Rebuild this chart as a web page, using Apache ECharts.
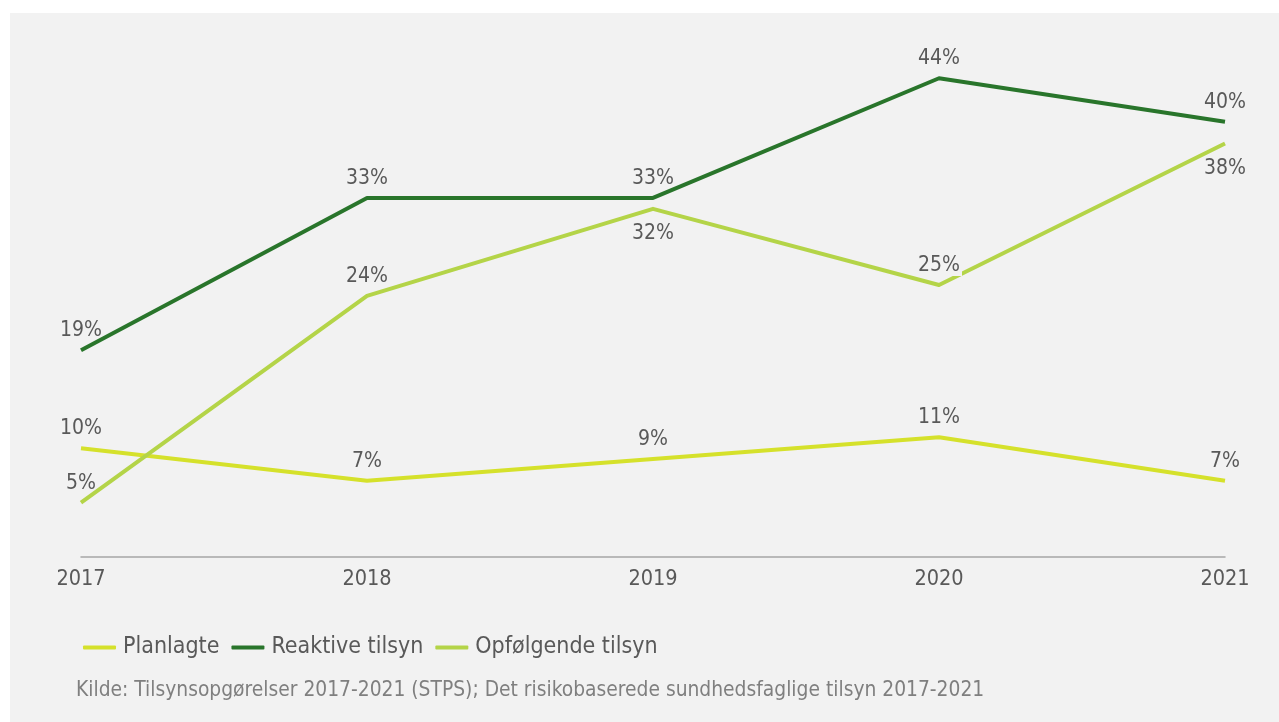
<!DOCTYPE html>
<html>
<head>
<meta charset="utf-8">
<script src="https://cdn.jsdelivr.net/npm/echarts@6/dist/echarts.min.js"></script>
<style>
  html, body { margin: 0; padding: 0; background: #ffffff; }
  #chart { width: 1279px; height: 722px; }
</style>
</head>
<body>
<div id="chart"></div>
<script>
// Inspection years and share of each inspection type (%)
const years = ['2017', '2018', '2019', '2020', '2021'];
const planlagte = [10, 7, 9, 11, 7];
const reaktive = [19, 33, 33, 44, 40];
const opfoelgende = [5, 24, 32, 25, 38];
const seriesNames = ['Planlagte', 'Reaktive tilsyn', 'Opfølgende tilsyn'];
const sourceNote = 'Kilde: Tilsynsopgørelser 2017-2021 (STPS); Det risikobaserede sundhedsfaglige tilsyn 2017-2021';

// Label placement per point; 'boxed' labels get a panel-coloured backdrop
const labelSides = {
  planlagte: ['top', 'top', 'top', 'top', 'top'],
  reaktive: ['top', 'top', 'top', 'top', 'top'],
  opfoelgende: ['top', 'top', 'bottom', 'top', 'bottom']
};
const boxedLabels = { opfoelgende: [3] };

const FONT = '"DejaVu Sans Condensed", "DejaVu Sans", sans-serif';
const TEXT = '#595959';
const PANEL = '#f2f2f2';

function withLabels(values, sides, boxed) {
  return values.map((v, i) => {
    const label = { position: sides[i], distance: sides[i] === 'bottom' ? 14 : 9 };
    if (boxed && boxed.indexOf(i) >= 0) {
      label.backgroundColor = PANEL;
      label.padding = [0, 2];
    }
    return { value: v, label: label };
  });
}

function lineSeries(name, values, sides, boxed, color) {
  return {
    name: name,
    type: 'line',
    data: withLabels(values, sides, boxed),
    symbol: 'circle',
    symbolSize: 0,
    lineStyle: { color: color, width: 4, join: 'round', cap: 'butt' },
    itemStyle: { color: color },
    label: {
      show: true,
      formatter: '{c}%',
      color: TEXT,
      fontFamily: FONT,
      fontSize: 21,
      textBorderWidth: 0,
      textBorderColor: 'transparent'
    },
    emphasis: { disabled: true },
    z: 2
  };
}

const chart = echarts.init(document.getElementById('chart'), null, { renderer: 'canvas' });

chart.setOption({
  backgroundColor: '#ffffff',
  animation: false,
  graphic: [
    {
      type: 'rect',
      shape: { x: 10, y: 13, width: 1269, height: 709 },
      style: { fill: PANEL },
      z: -10,
      silent: true
    },
    {
      type: 'text',
      left: 76,
      top: 680,
      style: {
        text: sourceNote,
        fill: '#7f7f7f',
        font: '20.8px ' + FONT
      },
      silent: true
    }
  ],
  grid: { left: 81, right: 54, top: 13, bottom: 165, containLabel: false },
  legend: {
    left: 83,
    top: 636,
    padding: 0,
    icon: 'roundRect',
    itemWidth: 33,
    itemHeight: 4,
    itemGap: 12,
    textStyle: { color: TEXT, fontFamily: FONT, fontSize: 23, padding: [0, 0, 0, 2] },
    data: seriesNames
  },
  xAxis: {
    type: 'category',
    data: years,
    boundaryGap: false,
    axisLine: { show: true, lineStyle: { color: '#a6a6a6', width: 1.5 } },
    axisTick: { show: false },
    axisLabel: { color: TEXT, fontFamily: FONT, fontSize: 21.5, margin: 11 },
    splitLine: { show: false }
  },
  yAxis: {
    type: 'value',
    min: 0,
    max: 50,
    show: false,
    splitLine: { show: false }
  },
  series: [
    lineSeries(seriesNames[0], planlagte, labelSides.planlagte, null, '#d5e12b'),
    lineSeries(seriesNames[1], reaktive, labelSides.reaktive, null, '#29752b'),
    lineSeries(seriesNames[2], opfoelgende, labelSides.opfoelgende, boxedLabels.opfoelgende, '#b4d448')
  ]
});
</script>
</body>
</html>
